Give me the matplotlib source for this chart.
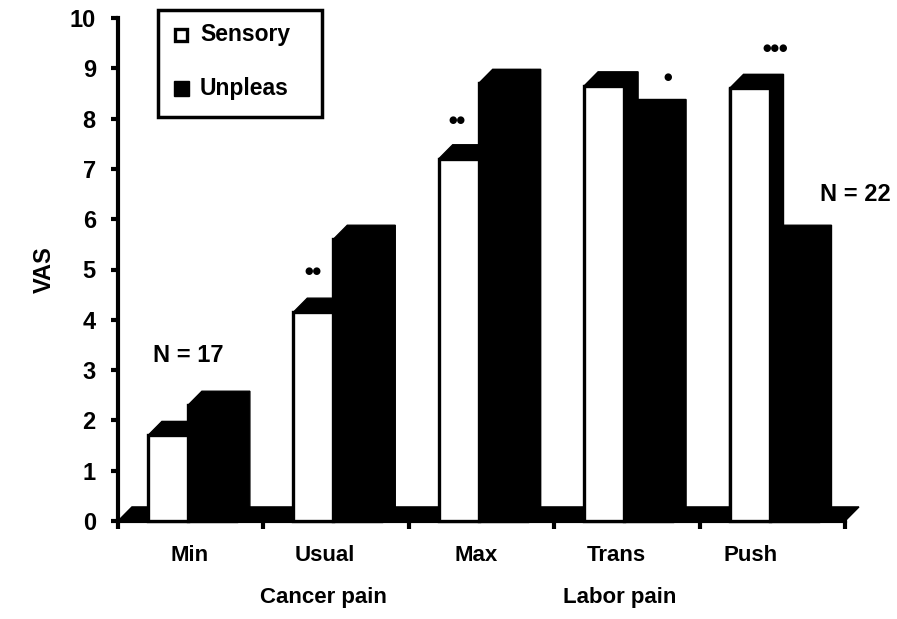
import matplotlib
matplotlib.use("Agg")
import matplotlib.pyplot as plt
from matplotlib.patches import Polygon, Rectangle

plt.rcParams['font.family'] = ['Liberation Sans', 'DejaVu Sans']
plt.rcParams['font.weight'] = 'bold'

# ---- data ----
categories = ["Min", "Usual", "Max", "Trans", "Push"]
groups = ["Cancer pain", "Labor pain"]
sensory = [1.7, 4.15, 7.2, 8.65, 8.6]
unpleas = [2.3, 5.6, 8.7, 8.1, 5.6]
series_names = ["Sensory", "Unpleas"]
stars = ["", "**", "**", "*", "***"]
n_labels = ["N = 17", "N = 22"]
y_ticks = list(range(0, 11))

# ---- layout ----
W, H = 897, 619
fig = plt.figure(figsize=(W / 100, H / 100), dpi=100)
ax_l, ax_r, ax_t, ax_b = 118, 845, 18, 521
ax = fig.add_axes([ax_l / W, 1 - ax_b / H, (ax_r - ax_l) / W, (ax_b - ax_t) / H])
ax.set_xlim(0, 5)
ax.set_ylim(0, 10)

dx, dy = 0.096, 0.28          # 3D depth offset (data units)
w_s, w_u = 0.275, 0.33         # front widths
off = 0.206                    # white bar left offset in group

def bar3d(left, width, h, face, z):
    poly = [(left, 0), (left, h), (left + dx, h + dy), (left + width + dx, h + dy),
            (left + width + dx, dy), (left + width, 0)]
    ax.add_patch(Polygon(poly, closed=True, facecolor='black', edgecolor='black',
                         lw=1, zorder=z, clip_on=False))
    ax.bar(left, h, width, align='edge', color=face, edgecolor='black',
           linewidth=2.4, zorder=z + 0.5, clip_on=False)

# floor
ax.add_patch(Polygon([(0, 0), (5, 0), (5 + dx, dy), (dx, dy)], closed=True,
                     facecolor='black', edgecolor='black', lw=1, zorder=1, clip_on=False))

for i, (s, u) in enumerate(zip(sensory, unpleas)):
    ls = i + off
    lu = ls + w_s
    bar3d(lu, w_u, u, 'black', 2)
    bar3d(ls, w_s, s, 'white', 3)

# significance marks
star_pos = [None, (1.34, 4.97), (2.33, 7.97), (3.78, 8.82), (4.52, 9.4)]
for st, p in zip(stars, star_pos):
    if st and p:
        ax.text(p[0], p[1], "\u25CF" * len(st), ha='center', va='center',
                fontsize=7, color='black', family='DejaVu Sans')

ax.text(0.48, 3.3, n_labels[0], ha='center', va='center', fontsize=17)
ax.text(5.07, 6.5, n_labels[1], ha='center', va='center', fontsize=17, clip_on=False)

# axes styling
for sp in ['top', 'right']:
    ax.spines[sp].set_visible(False)
ax.spines['left'].set_linewidth(3)
ax.spines['bottom'].set_linewidth(3)
ax.spines['left'].set_zorder(5)
ax.set_yticks(y_ticks)
ax.set_yticklabels([str(t) for t in y_ticks], fontsize=17, fontweight='bold')
ax.set_xticks(range(0, 6))
ax.set_xticklabels([])
ax.tick_params(axis='y', length=5, width=3, direction='out', pad=11)
ax.tick_params(axis='x', length=6, width=3, direction='out')
ax.set_ylabel("VAS", fontsize=17, fontweight='bold', labelpad=10)

# category labels
cat_x = [0.495, 1.42, 2.46, 3.43, 4.35]
for cx, c in zip(cat_x, categories):
    ax.text(cx, -0.68, c, ha='center', va='center', fontsize=16, clip_on=False)
grp_x = [1.41, 3.45]
for gx, g in zip(grp_x, groups):
    ax.text(gx, -1.53, g, ha='center', va='center', fontsize=16, clip_on=False)

# legend (manual)
def fx(px): return px / W
def fy(py): return 1 - py / H
fig.patches.append(Rectangle((fx(158), fy(117)), fx(322) - fx(158), fy(10) - fy(117),
                             transform=fig.transFigure, facecolor='white',
                             edgecolor='black', lw=2.5, zorder=10))
fig.patches.append(Rectangle((fx(175), fy(41)), fx(12), 12 / H,
                             transform=fig.transFigure, facecolor='white',
                             edgecolor='black', lw=2.4, zorder=11))
fig.patches.append(Rectangle((fx(174), fy(96)), fx(15), 15 / H,
                             transform=fig.transFigure, facecolor='black',
                             edgecolor='black', lw=1, zorder=11))
fig.text(fx(200), fy(35), series_names[0], ha='left', va='center', fontsize=16.5, zorder=12)
fig.text(fx(200), fy(89), series_names[1], ha='left', va='center', fontsize=16.5, zorder=12)

fig.savefig("out.png", dpi=100)
